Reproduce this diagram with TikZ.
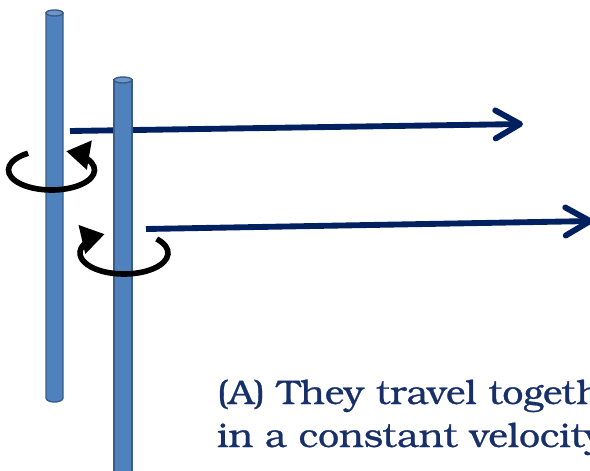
\documentclass[tikz,border=0pt]{standalone}
\usepackage{fontspec}
\setmainfont[FakeStretch=1.1,FakeBold=0.8]{TeX Gyre Bonum}
\usetikzlibrary{arrows.meta}
\definecolor{rodblue}{HTML}{4F81BD}
\definecolor{rodedge}{HTML}{385D8A}
\definecolor{rodtop}{HTML}{6F95C8}
\definecolor{velnavy}{HTML}{002060}
\definecolor{textnavy}{HTML}{17306A}
\tikzset{
  rod/.style={fill=rodblue, draw=rodedge, line width=1.2pt},
  rodcap/.style={fill=rodtop, draw=rodedge, line width=1.2pt},
  velocity/.style={velnavy, line width=5pt, -{Straight Barb[length=21pt,width=24pt,round]}},
  spin/.style={black, line width=4.8pt, -{Triangle[length=20pt,width=24pt]}},
  caption/.style={textnavy, anchor=base west, inner sep=0pt, font=\fontsize{29}{33}\selectfont},
}
\begin{document}
\begin{tikzpicture}[x=0.03cm, y=-0.03cm]
  \clip (0,0) rectangle (590,470);
  % velocity arrows
  \coordinate (velAstart) at (70,131);
  \coordinate (velAend) at (523,124);
  \coordinate (velBstart) at (146,229);
  \coordinate (velBend) at (593,221);
  \draw[velocity] (velAstart) -- (velAend);
  \draw[velocity] (velBstart) -- (velBend);
  % the two rods
  \draw[rod] (46,13) -- (46,398) arc[start angle=180, end angle=0, x radius=8.5, y radius=4] -- (63,13) -- cycle;
  \draw[rodcap] (54.5,13) ellipse (8.5 and 3);
  \draw[rod] (114,80) rectangle (132,490);
  \draw[rodcap] (123,80) ellipse (9 and 3);
  % spins
  \coordinate (spinA) at (51.5,170);
  \coordinate (spinB) at (124,253);
  \draw[spin] ([shift={(237:43 and 20)}]spinA) arc[start angle=237, end angle=-70, x radius=43, y radius=20];
  \draw[spin] ([shift={(-42:44 and 21)}]spinB) arc[start angle=-42, end angle=244, x radius=44, y radius=21];
  % caption
  \node[caption] (capA) at (217,404) {(A) They travel together};
  \node[caption] (capB) at (217,447) {in a constant velocity};
\end{tikzpicture}
\end{document}
